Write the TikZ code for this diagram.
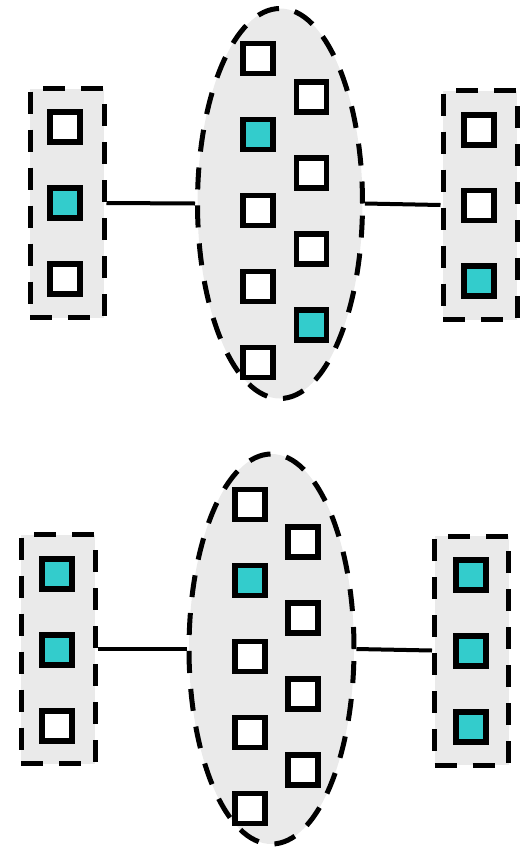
\documentclass[tikz,border=0pt]{standalone}
\usetikzlibrary{shapes.geometric}
\definecolor{boxgray}{HTML}{EAEAEA}
\definecolor{tealfill}{HTML}{33CCCC}
\tikzset{
  grp/.style={draw=black, fill=boxgray, line width=5pt, dash pattern=on 22pt off 16pt, rectangle, minimum width=74pt, minimum height=229pt, inner sep=0pt},
  blob/.style={draw=black, fill=boxgray, line width=5pt, dash pattern=on 22pt off 16pt, ellipse, minimum width=165pt, minimum height=390pt, inner sep=0pt},
  cell/.style={draw=black, fill=white, line width=5.3pt, rectangle, minimum size=30pt, inner sep=0pt},
  hot/.style={cell, fill=tealfill},
  link/.style={draw=black, line width=4pt}
}
\begin{document}
\begin{tikzpicture}[x=1pt, y=-1pt]
\useasboundingbox (0,0) rectangle (529,849);
% ---------- top group ----------
\node[grp] (L1) at (67,203) {};
\node[blob] (E1) at (280,203.5) {};
\node[grp] (R1) at (480,205) {};
\draw[link] (L1.east) -- (E1.west);
\draw[link] (E1.east) -- (R1.west);
\node[cell] (l1a) at (65,127) {};
\node[hot]  (l1b) at (65,203) {};
\node[cell] (l1c) at (65,279) {};
\node[cell] (e1a) at (258,58.5) {};
\node[hot]  (e1b) at (258,134.5) {};
\node[cell] (e1c) at (258,210.5) {};
\node[cell] (e1d) at (258,286.5) {};
\node[cell] (e1e) at (258,362.5) {};
\node[cell] (e1f) at (311.5,97) {};
\node[cell] (e1g) at (311.5,173) {};
\node[cell] (e1h) at (311.5,249) {};
\node[hot]  (e1i) at (311.5,325) {};
\node[cell] (r1a) at (479,130) {};
\node[cell] (r1b) at (479,205.5) {};
\node[hot]  (r1c) at (479,281) {};
% ---------- bottom group ----------
\node[grp] (L2) at (58,649) {};
\node[blob] (E2) at (271.5,649) {};
\node[grp] (R2) at (471.5,650.5) {};
\draw[link] (L2.east) -- (E2.west);
\draw[link] (E2.east) -- (R2.west);
\node[hot]  (l2a) at (57,574) {};
\node[hot]  (l2b) at (57,650) {};
\node[cell] (l2c) at (57,726) {};
\node[cell] (e2a) at (250,504.5) {};
\node[hot]  (e2b) at (250,580.5) {};
\node[cell] (e2c) at (250,656.5) {};
\node[cell] (e2d) at (250,732.5) {};
\node[cell] (e2e) at (250,808.5) {};
\node[cell] (e2f) at (303,542) {};
\node[cell] (e2g) at (303,618) {};
\node[cell] (e2h) at (303,694) {};
\node[cell] (e2i) at (303,770) {};
\node[hot]  (r2a) at (471,575) {};
\node[hot]  (r2b) at (471,651) {};
\node[hot]  (r2c) at (471,727) {};
\end{tikzpicture}
\end{document}
